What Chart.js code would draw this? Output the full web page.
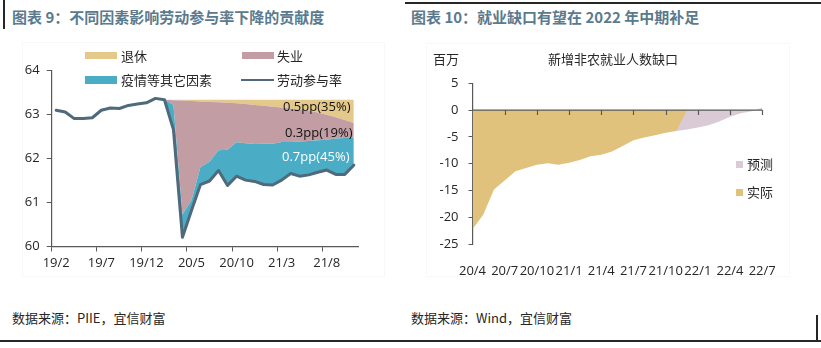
<!DOCTYPE html>
<html>
<head>
<meta charset="utf-8">
<script src="https://cdn.jsdelivr.net/npm/chart.js@4/dist/chart.umd.min.js"></script>
<style>
html,body{margin:0;padding:0;background:#fff;}
body{width:821px;height:348px;position:relative;overflow:hidden;font-family:"Open Sans","Noto Sans CJK SC",sans-serif;color:#262626;}
.a{position:absolute;white-space:nowrap;height:20px;line-height:20px;}
.title{font-size:15px;font-weight:bold;color:#5a7a8e;font-family:"Noto Sans CJK SC",sans-serif;}
.t13{font-size:13px;}
.ln{position:absolute;background:#262626;}
.sw{position:absolute;}
canvas{position:absolute;}
.box{position:absolute;border:1px solid #f8f8f8;}
</style>
</head>
<body>
<div class="ln" style="left:3px;top:0;width:1.5px;height:29px;"></div>
<div class="ln" style="left:405px;top:2px;width:416px;height:1.5px;"></div>
<div class="ln" style="left:0;top:340px;width:821px;height:2px;"></div>
<div class="ln" style="left:816px;top:315px;width:1.5px;height:27px;"></div>

<div class="box" style="left:22px;top:42px;width:361px;height:233px;"></div>
<div class="box" style="left:426px;top:43px;width:362px;height:232px;"></div>

<div class="a title" style="left:12px;top:7px;">图表 9：不同因素影响劳动参与率下降的贡献度</div>
<div class="a title" style="left:411px;top:7px;">图表 10：就业缺口有望在 2022 年中期补足</div>

<canvas id="c1" width="400" height="250" style="left:0;top:40px;"></canvas>
<canvas id="c2" width="416" height="250" style="left:405px;top:40px;"></canvas>

<!-- left legend -->
<div class="sw" style="left:85px;top:52px;width:32px;height:7px;background:#E5C98A;"></div>
<div class="a t13" style="left:121px;top:46px;">退休</div>
<div class="sw" style="left:242px;top:52px;width:32px;height:7px;background:#C29EA4;"></div>
<div class="a t13" style="left:277px;top:46px;">失业</div>
<div class="sw" style="left:85px;top:76px;width:32px;height:7.5px;background:#4BACC6;"></div>
<div class="a t13" style="left:121px;top:70px;">疫情等其它因素</div>
<div class="sw" style="left:241px;top:78.5px;width:33px;height:2.5px;background:#4F6A7B;"></div>
<div class="a t13" style="left:277px;top:70px;">劳动参与率</div>

<!-- left annotations -->
<div class="a t13" style="left:283px;top:96px;color:#111;">0.5pp(35%)</div>
<div class="a t13" style="left:285px;top:122px;color:#111;">0.3pp(19%)</div>
<div class="a t13" style="left:282px;top:146px;color:#fff;">0.7pp(45%)</div>

<!-- right chart texts -->
<div class="a t13" style="left:433px;top:49px;">百万</div>
<div class="a t13" style="left:548px;top:49px;">新增非农就业人数缺口</div>
<div class="sw" style="left:736px;top:161px;width:7px;height:7px;background:#D9CAD6;"></div>
<div class="a t13" style="left:747px;top:154px;">预测</div>
<div class="sw" style="left:736px;top:189px;width:7px;height:7px;background:#E0C27C;"></div>
<div class="a t13" style="left:747px;top:182px;">实际</div>

<!-- sources -->
<div class="a t13" style="left:12px;top:308px;font-family:'Noto Sans CJK SC',sans-serif;">数据来源：PIIE，宜信财富</div>
<div class="a t13" style="left:411px;top:308px;font-family:'Noto Sans CJK SC',sans-serif;">数据来源：Wind，宜信财富</div>

<script>
// ---------- Left chart data ----------
const leftMonths = ['19/2','19/3','19/4','19/5','19/6','19/7','19/8','19/9','19/10','19/11','19/12',
  '20/1','20/2','20/3','20/4','20/5','20/6','20/7','20/8','20/9','20/10','20/11','20/12',
  '21/1','21/2','21/3','21/4','21/5','21/6','21/7','21/8','21/9','21/10','21/11'];
const participationRate = [63.10,63.06,62.91,62.91,62.93,63.10,63.15,63.14,63.21,63.24,63.27,
  63.37,63.34,62.66,60.21,60.82,61.41,61.49,61.73,61.39,61.60,61.51,61.48,
  61.41,61.40,61.51,61.66,61.60,61.63,61.69,61.74,61.64,61.64,61.85];
const otherFactorsTop = [null,null,null,null,null,null,null,null,null,null,null,
  null,63.34,63.22,60.73,61.05,61.81,61.93,62.19,62.20,62.37,62.35,62.33,
  62.34,62.34,62.38,62.38,62.39,62.40,62.42,62.43,62.46,62.47,62.48];
const unemploymentTop = [null,null,null,null,null,null,null,null,null,null,null,
  null,63.34,63.33,63.32,63.31,63.30,63.29,63.28,63.27,63.26,63.24,63.22,
  63.20,63.18,63.16,63.14,63.12,63.09,63.05,63.00,62.94,62.88,62.81];
const retirementTop = [null,null,null,null,null,null,null,null,null,null,null,
  null,63.34,63.34,63.34,63.34,63.34,63.34,63.34,63.34,63.34,63.34,63.34,
  63.34,63.34,63.34,63.34,63.34,63.34,63.34,63.34,63.34,63.34,63.34];
const leftYTicks = [60,61,62,63,64];

// ---------- Right chart data ----------
const rightMonths = ['20/4','20/5','20/6','20/7','20/8','20/9','20/10','20/11','20/12',
  '21/1','21/2','21/3','21/4','21/5','21/6','21/7','21/8','21/9','21/10','21/11','21/12',
  '22/1','22/2','22/3','22/4','22/5','22/6','22/7'];
const actualGap = [-22.2,-19.5,-14.8,-13.1,-11.4,-10.8,-10.2,-9.9,-10.2,
  -9.8,-9.3,-8.6,-8.3,-7.7,-6.7,-5.6,-5.1,-4.7,-4.2,-3.9,0,
  null,null,null,null,null,null,null];
const forecastGap = [null,null,null,null,null,null,null,null,null,
  null,null,null,null,null,null,null,null,null,null,-3.9,-3.6,
  -3.25,-2.8,-2.1,-1.25,-0.6,-0.2,0.45];
const rightYTicks = [-25,-20,-15,-10,-5,0,5];

const FONT = {family: '"Open Sans","Noto Sans CJK SC",sans-serif', size: 13};
const AXIS = '#595959';
const TXT = '#262626';

// Left chart
new Chart(document.getElementById('c1'), {
  type: 'line',
  data: {
    labels: leftMonths,
    datasets: [
      {label:'劳动参与率', data: participationRate, borderColor:'#4F6A7B', borderWidth:3,
       pointRadius:0, fill:false, order:0, borderJoinStyle:'round', borderCapStyle:'round', tension:0},
      {label:'疫情等其它因素', data: otherFactorsTop, borderWidth:0, borderColor:'rgba(0,0,0,0)',
       backgroundColor:'#4BACC6', pointRadius:0, fill:0, order:1, tension:0},
      {label:'失业', data: unemploymentTop, borderWidth:0, borderColor:'rgba(0,0,0,0)',
       backgroundColor:'#C29EA4', pointRadius:0, fill:1, order:2, tension:0},
      {label:'退休', data: retirementTop, borderWidth:0, borderColor:'rgba(0,0,0,0)',
       backgroundColor:'#E5C98A', pointRadius:0, fill:2, order:3, tension:0}
    ]
  },
  options: {
    responsive:false, animation:false, events:[],
    layout:{padding:{left:0,right:41.7,top:30.7,bottom:0}},
    plugins:{legend:{display:false}, tooltip:{enabled:false}},
    scales:{
      x:{type:'category', offset:true,
        grid:{offset:true, drawOnChartArea:false, tickLength:5,
          tickColor:(c)=> (c.index % 5 === 0 ? AXIS : 'rgba(0,0,0,0)'), color:AXIS},
        border:{display:true,color:AXIS,width:1.2},
        ticks:{autoSkip:false, maxRotation:0, minRotation:0, color:TXT, font:FONT, padding:4,
          callback:(v,i)=> (i % 5 === 0 ? leftMonths[i] : '')},
        afterFit:(s)=>{ s.height = 43.5; }
      },
      y:{min:60, max:64,
        afterBuildTicks:(s)=>{ s.ticks = leftYTicks.map(v=>({value:v})); },
        grid:{drawOnChartArea:false, tickLength:5, color:AXIS},
        border:{display:true,color:AXIS,width:1.2},
        ticks:{color:TXT, font:FONT, padding:7},
        afterFit:(s)=>{ s.width = 51.7; }
      }
    }
  }
});

// Right chart: zero line and category tick marks drawn from the scales
const zeroAxisPlugin = {
  id:'zeroAxis',
  afterDatasetsDraw(chart){
    const {ctx, chartArea, scales:{x, y}} = chart;
    const y0 = y.getPixelForValue(0);
    ctx.save();
    ctx.strokeStyle = AXIS; ctx.lineWidth = 1.2;
    ctx.beginPath();
    ctx.moveTo(chartArea.left, y0); ctx.lineTo(chartArea.right, y0);
    x.ticks.forEach((t, i)=>{
      if (i % 3 === 0 && i > 0) {
        const px = Math.round(x.getPixelForTick(i)) + 0.5;
        ctx.moveTo(px, y0); ctx.lineTo(px, y0 + 5);
      }
    });
    ctx.stroke();
    ctx.restore();
  }
};

new Chart(document.getElementById('c2'), {
  type:'line',
  data:{
    labels: rightMonths,
    datasets:[
      {label:'实际', data: actualGap, borderWidth:0, borderColor:'rgba(0,0,0,0)',
       backgroundColor:'#E0C27C', pointRadius:0, fill:'origin', order:0, tension:0},
      {label:'预测', data: forecastGap, borderWidth:0, borderColor:'rgba(0,0,0,0)',
       backgroundColor:'#D9CAD6', pointRadius:0, fill:'origin', order:1, tension:0}
    ]
  },
  options:{
    responsive:false, animation:false, events:[],
    layout:{padding:{left:0,right:58.8,top:43.3,bottom:0}},
    plugins:{legend:{display:false}, tooltip:{enabled:false}},
    scales:{
      x:{type:'category', offset:false,
        grid:{display:false}, border:{display:false},
        ticks:{autoSkip:false, maxRotation:0, minRotation:0, color:TXT, font:FONT, padding:11,
          callback:(v,i)=> (i % 3 === 0 ? rightMonths[i] : '')},
        afterFit:(s)=>{ s.height = 45.8; }
      },
      y:{min:-25, max:5,
        afterBuildTicks:(s)=>{ s.ticks = rightYTicks.map(v=>({value:v})); },
        grid:{drawOnChartArea:false, tickLength:4, color:AXIS},
        border:{display:true,color:AXIS,width:1.2},
        ticks:{color:TXT, font:FONT, padding:10},
        afterFit:(s)=>{ s.width = 67.5; }
      }
    }
  },
  plugins:[zeroAxisPlugin]
});
</script>
</body>
</html>
